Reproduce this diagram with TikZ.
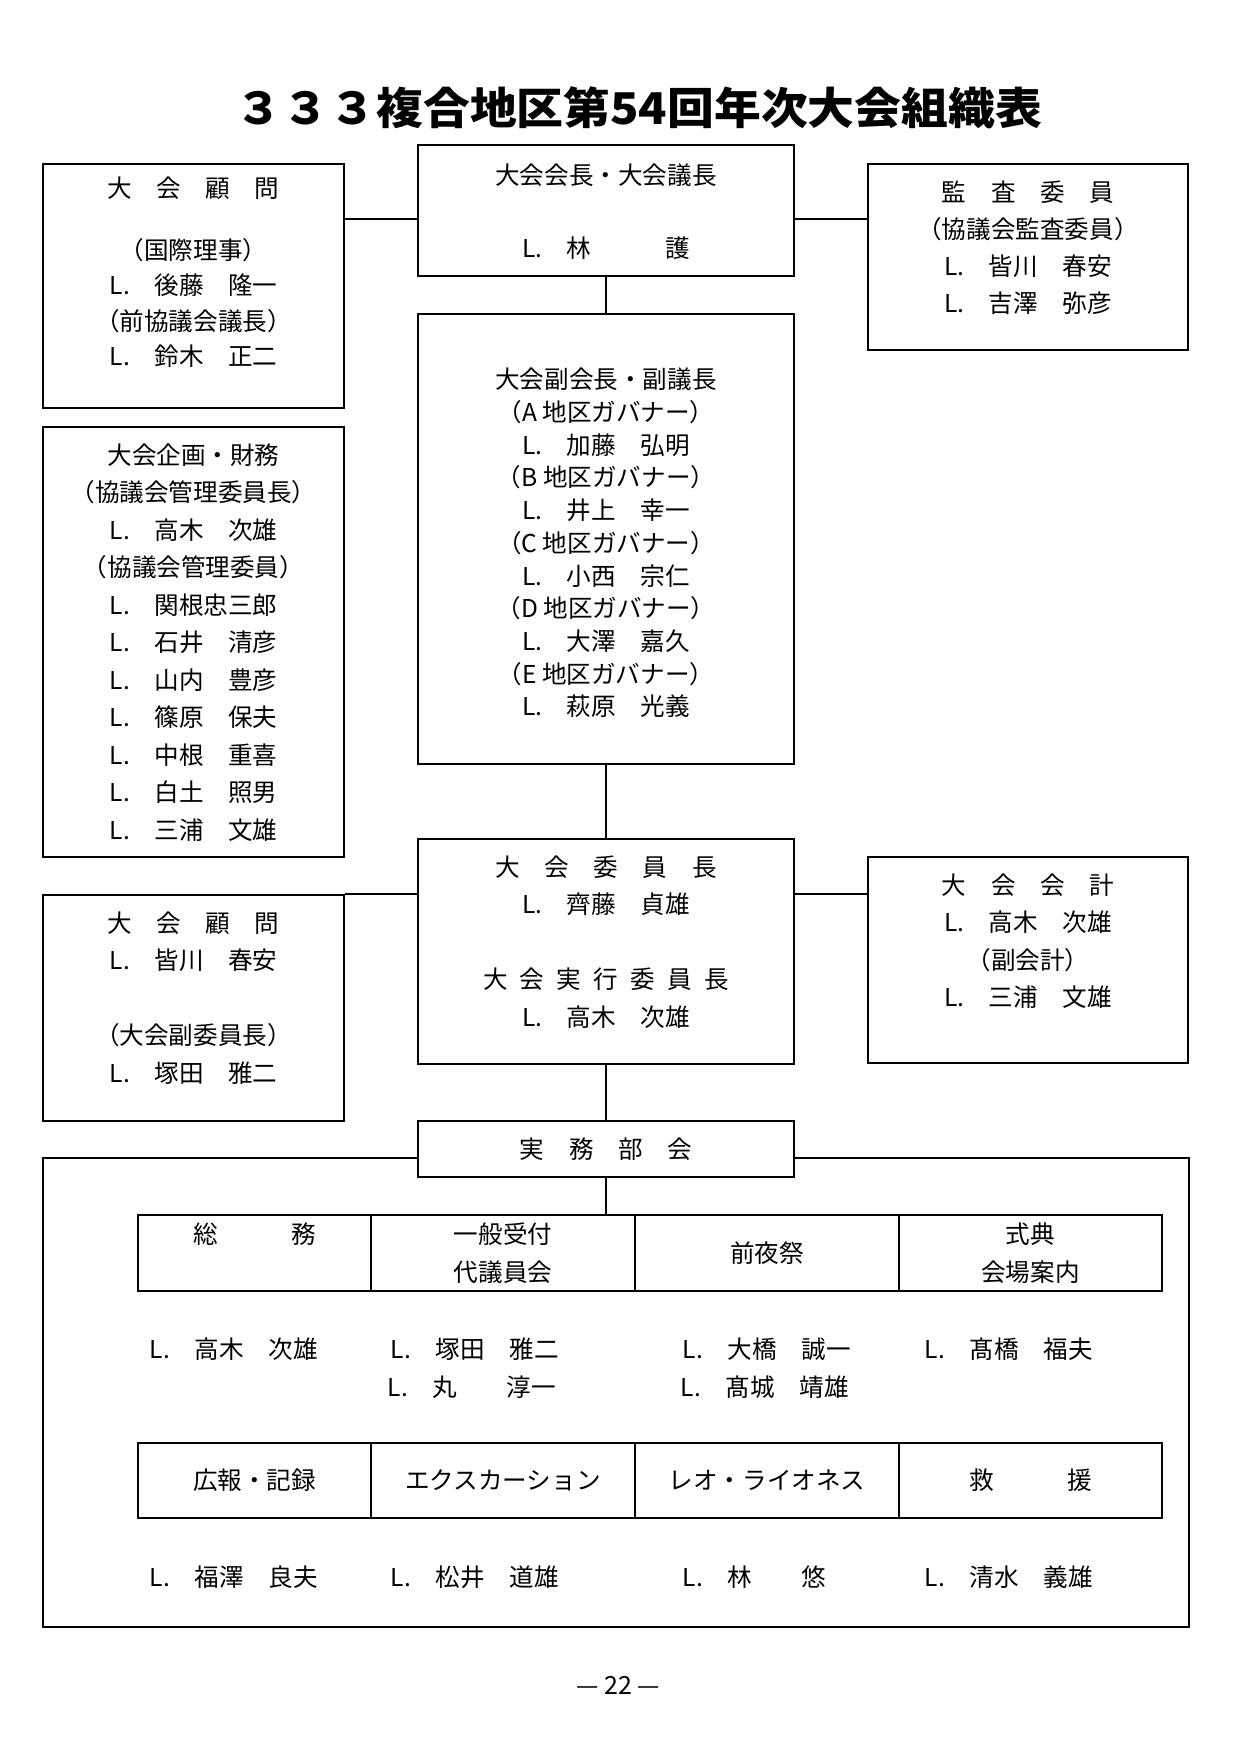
\documentclass[tikz,border=0pt]{standalone}
\usepackage{fontspec}
\setmainfont{Noto Sans CJK JP}
\usepackage{graphicx}
\newcommand\px{0.48pt}

\begin{document}
\begin{tikzpicture}[x=0.48pt,y=-0.48pt,line width=0.9pt,
  box/.style={draw, inner sep=0pt},
  txt/.style={align=center, inner sep=0pt, font=\fontsize{11.8}{18}\selectfont},
  cell/.style={box, align=center, font=\fontsize{11.8}{18}\selectfont},
  nm/.style={anchor=west, inner sep=0pt, font=\fontsize{11.8}{18}\selectfont}]
\useasboundingbox (0,0) rectangle (1240,1753);

\node[font=\fontsize{21}{24}\selectfont\bfseries] (title) at (639,108) {\scalebox{1.07}[1]{３３３複合地区第54回年次大会組織表}};

% upper part
\node[box, minimum width=301*\px, minimum height=244*\px] (adv1) at (193.5,286) {};
\node[txt, font=\fontsize{11.8}{17}\selectfont] (adv1t) at (193.5,272.5)
  {大　会　顧　問\\[12.5pt]（国際理事）\\L.　後藤　隆一\\（前協議会議長）\\L.　鈴木　正二};

\node[box, minimum width=376*\px, minimum height=131*\px] (pres) at (606,210.5) {};
\node[txt] (prest) at (606,211.5) {大会会長・大会議長\\[17pt]L.　林　　　護};

\node[box, minimum width=320*\px, minimum height=186*\px] (audit) at (1028,257) {};
\node[txt, font=\fontsize{11.8}{17.7}\selectfont] (auditt) at (1028,247.5)
  {監　査　委　員\\（協議会監査委員）\\L.　皆川　春安\\L.　吉澤　弥彦};

\node[box, minimum width=301*\px, minimum height=430*\px] (plan) at (193.5,642) {};
\node[txt] (plant) at (193.5,642.5)
  {大会企画・財務\\（協議会管理委員長）\\L.　高木　次雄\\（協議会管理委員）\\L.　関根忠三郎\\
   L.　石井　清彦\\L.　山内　豊彦\\L.　篠原　保夫\\L.　中根　重喜\\L.　白土　照男\\L.　三浦　文雄};

\node[box, minimum width=376*\px, minimum height=450*\px] (vice) at (606,539) {};
\node[txt, font=\fontsize{11.8}{15.7}\selectfont] (vicet) at (606,543)
  {大会副会長・副議長\\（A 地区ガバナー）\\L.　加藤　弘明\\（B 地区ガバナー）\\L.　井上　幸一\\
   （C 地区ガバナー）\\L.　小西　宗仁\\（D 地区ガバナー）\\L.　大澤　嘉久\\（E 地区ガバナー）\\L.　萩原　光義};

% middle part
\node[box, minimum width=301*\px, minimum height=226*\px] (adv2) at (193.5,1008) {};
\node[txt] (adv2t) at (193.5,998)
  {大　会　顧　問\\L.　皆川　春安\\[18pt]（大会副委員長）\\L.　塚田　雅二};

\node[box, minimum width=376*\px, minimum height=225*\px] (chair) at (606,951.5) {};
\node[txt] (chairt) at (606,942)
  {大　会　委　員　長\\L.　齊藤　貞雄\\[18pt]大\enspace 会\enspace 実\enspace 行\enspace 委\enspace 員\enspace 長\\L.　高木　次雄};

\node[box, minimum width=320*\px, minimum height=206*\px] (acct) at (1028,960) {};
\node[txt] (acctt) at (1028,941)
  {大　会　会　計\\L.　高木　次雄\\（副会計）\\L.　三浦　文雄};

% lower part
\node[box, minimum width=1146*\px, minimum height=469*\px] (frame) at (616,1392.5) {};
\node[box, fill=white, minimum width=376*\px, minimum height=56*\px, txt] (jimu) at (606,1149) {実　務　部　会};

\node[cell, minimum width=233*\px, minimum height=76*\px] (g1) at (254.5,1253) {総　　　務\\\phantom{務}};
\node[cell, minimum width=264*\px, minimum height=76*\px] (g2) at (503,1253) {一般受付\\代議員会};
\node[cell, minimum width=264*\px, minimum height=76*\px] (g3) at (767,1253) {前夜祭};
\node[cell, minimum width=263*\px, minimum height=76*\px] (g4) at (1030.5,1253) {式典\\会場案内};

\node[nm] (n1) at (149,1349) {L.　高木　次雄};
\node[nm] (n2) at (390,1349) {L.　塚田　雅二};
\node[nm] (n2b) at (387,1387) {L.　丸　　淳一};
\node[nm] (n3) at (682,1349) {L.　大橋　誠一};
\node[nm] (n3b) at (680,1387) {L.　髙城　靖雄};
\node[nm] (n4) at (924,1349) {L.　髙橋　福夫};

\node[cell, minimum width=233*\px, minimum height=75*\px] (h1) at (254.5,1480.5) {広報・記録};
\node[cell, minimum width=264*\px, minimum height=75*\px] (h2) at (503,1480.5) {エクスカーション};
\node[cell, minimum width=264*\px, minimum height=75*\px] (h3) at (767,1480.5) {レオ・ライオネス};
\node[cell, minimum width=263*\px, minimum height=75*\px] (h4) at (1030.5,1480.5) {救　　　援};

\node[nm] (m1) at (149,1577) {L.　福澤　良夫};
\node[nm] (m2) at (390,1577) {L.　松井　道雄};
\node[nm] (m3) at (682,1577) {L.　林　　悠};
\node[nm] (m4) at (924,1577) {L.　清水　義雄};

\node[font=\fontsize{12}{14}\selectfont] (page) at (618,1685) {— 22 —};

% connectors
\coordinate (p1) at ([yshift=-4pt]pres.west);
\draw (p1 -| adv1.east) -- (p1);
\draw (p1 -| pres.east) -- (p1 -| audit.west);
\draw (pres) -- (vice);
\draw (vice) -- (chair);
\draw (adv2.north east) -- (adv2.north east -| chair.west);
\draw (adv2.north east -| chair.east) -- (adv2.north east -| acct.west);
\draw (chair) -- (jimu);
\draw (jimu.south) -- (jimu.south |- g2.north);
\end{tikzpicture}
\end{document}
